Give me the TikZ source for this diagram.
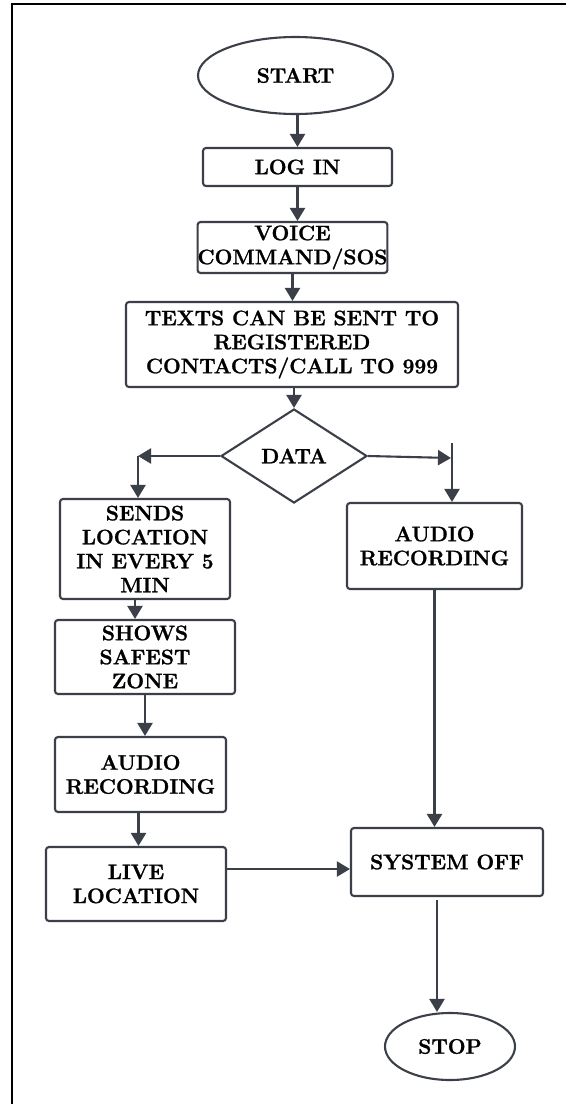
\documentclass[tikz,border=0pt]{standalone}
\usepackage{fontspec}
\setmainfont{Latin Modern Roman}[BoldFeatures={FakeBold=1.2}]
\usetikzlibrary{shapes.geometric,arrows.meta}
\definecolor{linec}{HTML}{3A3F48}
\tikzset{
  lbl/.style={font=\fontsize{21}{24}\selectfont\bfseries, text=black, align=center, inner sep=0pt},
  boxn/.style={lbl, draw=linec, line width=2.1pt, rectangle, rounded corners=3pt},
  termn/.style={lbl, draw=linec, line width=2.1pt, ellipse},
  decn/.style={lbl, draw=linec, line width=2.1pt, diamond, aspect=1.55},
  arr/.style={draw=linec, line width=2.1pt, -{Triangle[length=13pt,width=15pt]}},
  plain/.style={draw=linec, line width=2.1pt}
}
\begin{document}
\begin{tikzpicture}[x=1pt,y=-1pt]
\useasboundingbox (0,0) rectangle (566,1104);
\fill[white] (0,0) rectangle (566,1104);
\draw[line width=2.4pt, black] (12,1104) -- (12,4) -- (566,4);

\node[termn, minimum width=195pt, minimum height=77pt] (start) at (295.5,75.5) {START};
\node[boxn, minimum width=189pt, minimum height=38pt] (login) at (297.5,167) {LOG IN};
\node[boxn, minimum width=189pt, minimum height=51pt] (voice) at (292.5,247.5) {VOICE\\COMMAND/SOS};
\node[boxn, minimum width=332pt, minimum height=85pt] (texts) at (292,344.5) {TEXTS CAN BE SENT TO\\REGISTERED\\CONTACTS/CALL TO 999};
\node[decn, minimum width=146pt, minimum height=94pt] (data) at (294,456) {DATA};
\node[boxn, minimum width=170pt, minimum height=100pt] (sends) at (145,549) {SENDS\\LOCATION\\IN EVERY 5\\MIN};
\node[boxn, minimum width=175pt, minimum height=86pt] (audioR) at (434.5,546) {AUDIO\\RECORDING};
\node[boxn, minimum width=180pt, minimum height=74pt] (shows) at (145,657) {SHOWS\\SAFEST\\ZONE};
\node[boxn, minimum width=171pt, minimum height=75pt] (audioL) at (140.5,774.5) {AUDIO\\RECORDING};
\node[boxn, minimum width=180pt, minimum height=74pt] (live) at (136,884) {LIVE\\LOCATION};
\node[boxn, minimum width=192pt, minimum height=68pt] (sysoff) at (447,862) {SYSTEM OFF};
\node[termn, minimum width=130pt, minimum height=67pt] (stop) at (450,1046.5) {STOP};

\coordinate (lc) at (138,456);
\coordinate (rc) at (451,458);
\coordinate (rt) at (452,443);

\draw[arr] (login.north |- start.south) -- (login.north);
\draw[arr] (login.south) -- (login.south |- voice.north);
\draw[arr] (voice.south) -- (voice.south |- texts.north);
\draw[arr] (data.north |- texts.south) -- (data.north);
\draw[arr] (data.west) -- (lc);
\draw[arr] (lc) -- (lc |- sends.north);
\draw[arr] (data.east) -- (rc);
\draw[arr] (rt) -- (rt |- audioR.north);
\draw[arr] ([xshift=-10pt]sends.south) -- ([xshift=-10pt]sends.south |- shows.north);
\draw[arr] (shows.south) -- (shows.south |- audioL.north);
\draw[arr] ([xshift=-2pt]audioL.south) -- ([xshift=-2pt]audioL.south |- live.north);
\draw[arr] ([yshift=15pt]live.east) -- ([yshift=15pt]live.east -| sysoff.west);
\draw[arr] (audioR.south) -- (audioR.south |- sysoff.north);
\draw[arr] ([xshift=-10pt,yshift=-3pt]sysoff.south) -- ([xshift=-10pt]sysoff.south |- stop.north);
\end{tikzpicture}
\end{document}
